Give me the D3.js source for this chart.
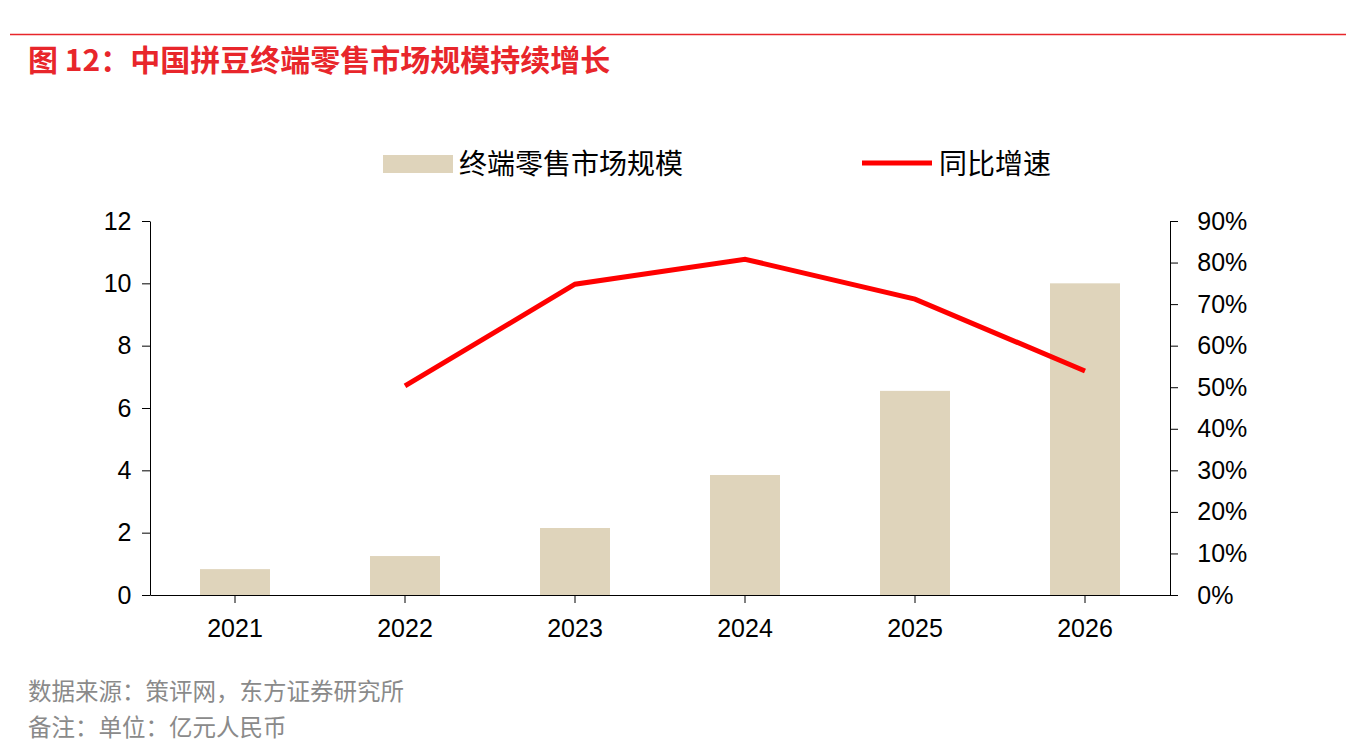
<!DOCTYPE html>
<html><head><meta charset="utf-8">
<script src="https://cdn.jsdelivr.net/npm/d3@7"></script>
<style>body{margin:0;background:#fff}svg{font-family:"Liberation Sans","Noto Sans CJK SC",sans-serif}</style>
</head><body><svg id="c" width="1346" height="741"></svg>
<script>
const years=["2021","2022","2023","2024","2025","2026"];
const sizeValues=[0.83,1.25,2.15,3.85,6.55,10.0];
const growthYears=["2022","2023","2024","2025","2026"];
const growthValues=[0.503,0.748,0.808,0.712,0.539];
const leftTicks=[0,2,4,6,8,10,12];
const rightTicks=[0,0.1,0.2,0.3,0.4,0.5,0.6,0.7,0.8,0.9];

const svg=d3.select("#c");
const cjk='"Noto Sans CJK SC",sans-serif';
svg.append("line").attr("x1",10).attr("x2",1346).attr("y1",34.5).attr("y2",34.5).attr("stroke","#e8262b").attr("stroke-width",1.5);
svg.append("text").attr("x",28).attr("y",71).attr("fill","#e8262b").attr("font-size",30).attr("font-weight","bold").style("font-family",cjk).text("图 12：中国拼豆终端零售市场规模持续增长");

const x=d3.scaleBand().domain(years).range([150,1170]);
const yL=d3.scaleLinear().domain([0,12]).range([595,221]);
const yR=d3.scaleLinear().domain([0,0.9]).range([595,221]);

const g=svg.append("g");
g.selectAll("rect.bar").data(years).join("rect").attr("class","bar")
 .attr("x",d=>x(d)+x.bandwidth()/2-35).attr("width",70)
 .attr("y",(d,i)=>yL(sizeValues[i])).attr("height",(d,i)=>595-yL(sizeValues[i]))
 .attr("fill","#dfd4bb");

const line=d3.line().x(d=>x(d[0])+x.bandwidth()/2).y(d=>yR(d[1]));
g.append("path").datum(growthYears.map((y,i)=>[y,growthValues[i]])).attr("d",line)
 .attr("fill","none").attr("stroke","#ff0000").attr("stroke-width",5);

const ax=svg.append("g").attr("transform","translate(0,595)").call(d3.axisBottom(x).tickSize(8).tickSizeOuter(0));
ax.selectAll("text").attr("font-size",25).attr("fill","#000").attr("dy","1.25em");
const al=svg.append("g").attr("transform","translate(150,0)").call(d3.axisLeft(yL).tickValues(leftTicks).tickSize(8).tickSizeOuter(0));
al.selectAll("text").attr("font-size",25).attr("fill","#000").attr("dx","-0.3em");
const ar=svg.append("g").attr("transform","translate(1170,0)").call(d3.axisRight(yR).tickValues(rightTicks).tickFormat(d3.format(".0%")).tickSize(8).tickSizeOuter(0));
ar.selectAll("text").attr("font-size",25).attr("fill","#000").attr("dx","0.65em");
svg.selectAll(".domain,.tick line").attr("stroke","#000");

svg.append("rect").attr("x",383).attr("y",155).attr("width",70).attr("height",18).attr("fill","#dfd4bb");
svg.append("text").attr("x",459).attr("y",174).attr("font-size",28).style("font-family",cjk).text("终端零售市场规模");
svg.append("line").attr("x1",862).attr("x2",932).attr("y1",163).attr("y2",163).attr("stroke","#ff0000").attr("stroke-width",5);
svg.append("text").attr("x",939).attr("y",174).attr("font-size",28).style("font-family",cjk).text("同比增速");

svg.append("text").attr("x",28).attr("y",700).attr("font-size",23.5).attr("fill","#8a8a8a").style("font-family",cjk).text("数据来源：策评网，东方证券研究所");
svg.append("text").attr("x",28).attr("y",736).attr("font-size",23.5).attr("fill","#8a8a8a").style("font-family",cjk).text("备注：单位：亿元人民币");
</script></body></html>
